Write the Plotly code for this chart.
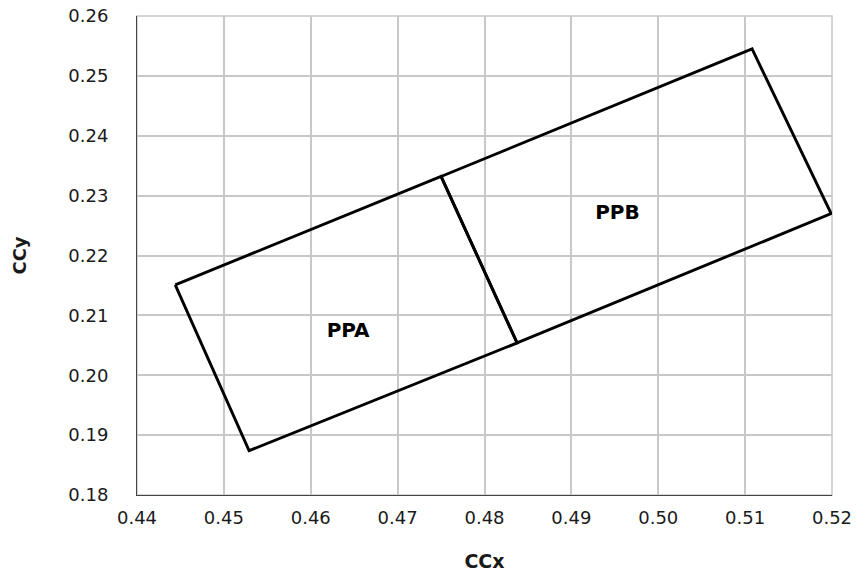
import plotly.graph_objects as go

# PPA region corners (CCx, CCy), closed
ppa_x = [0.4444, 0.4750, 0.48375, 0.4529, 0.4444]
ppa_y = [0.2151, 0.2332, 0.2054, 0.1874, 0.2151]
# PPB region corners, closed
ppb_x = [0.4750, 0.5108, 0.5199, 0.48375, 0.4750]
ppb_y = [0.2332, 0.2545, 0.2270, 0.2054, 0.2332]

label_text = ["PPA", "PPB"]
label_x = [0.4643, 0.4953]
label_y = [0.2072, 0.2269]

x_ticks = [0.44, 0.45, 0.46, 0.47, 0.48, 0.49, 0.50, 0.51, 0.52]
y_ticks = [0.18, 0.19, 0.20, 0.21, 0.22, 0.23, 0.24, 0.25, 0.26]

FONT = "DejaVu Sans, Liberation Sans, Arial"
TXT = "#1a1a1a"

fig = go.Figure()
fig.add_trace(go.Scatter(x=ppa_x, y=ppa_y, mode="lines",
                         line=dict(color="black", width=2.9), showlegend=False, hoverinfo="skip"))
fig.add_trace(go.Scatter(x=ppb_x, y=ppb_y, mode="lines",
                         line=dict(color="black", width=2.9), showlegend=False, hoverinfo="skip"))
fig.add_trace(go.Scatter(x=label_x, y=label_y, mode="text", text=label_text,
                         textfont=dict(family=FONT, size=20, color="black"),
                         texttemplate="<b>%{text}</b>", showlegend=False, hoverinfo="skip"))

fig.update_layout(
    width=856, height=575,
    margin=dict(l=137, r=24, t=16, b=80),
    plot_bgcolor="white", paper_bgcolor="white",
    font=dict(family=FONT, size=18, color=TXT),
    xaxis=dict(range=[0.44, 0.52], tickvals=x_ticks, ticktext=[f"{v:.2f}" for v in x_ticks],
               tickfont=dict(family=FONT, size=18, color=TXT), automargin=False,
               ticks="outside", ticklen=6, tickcolor="rgba(0,0,0,0)",
               showgrid=True, gridcolor="#c8c8c8", gridwidth=1.5,
               showline=True, linecolor="#444", linewidth=1, zeroline=False,
               title=dict(text="<b>CCx</b>", font=dict(family=FONT, size=19, color=TXT), standoff=28)),
    yaxis=dict(range=[0.18, 0.26], tickvals=y_ticks, ticktext=[f"{v:.2f}" for v in y_ticks],
               tickfont=dict(family=FONT, size=18, color=TXT), automargin=False,
               ticks="outside", ticklen=24, tickcolor="rgba(0,0,0,0)",
               showgrid=True, gridcolor="#c8c8c8", gridwidth=1.5,
               showline=True, linecolor="#444", linewidth=1, zeroline=False,
               title=dict(text="<b>CCy</b>", font=dict(family=FONT, size=18, color=TXT), standoff=37)),
)
fig.add_shape(type="rect", xref="paper", yref="paper", x0=0, y0=0, x1=1, y1=1,
              line=dict(color="#c8c8c8", width=1.5), layer="below")

fig.write_html("out.html", config={"displayModeBar": False},
               post_script="document.body.style.margin='0';")
